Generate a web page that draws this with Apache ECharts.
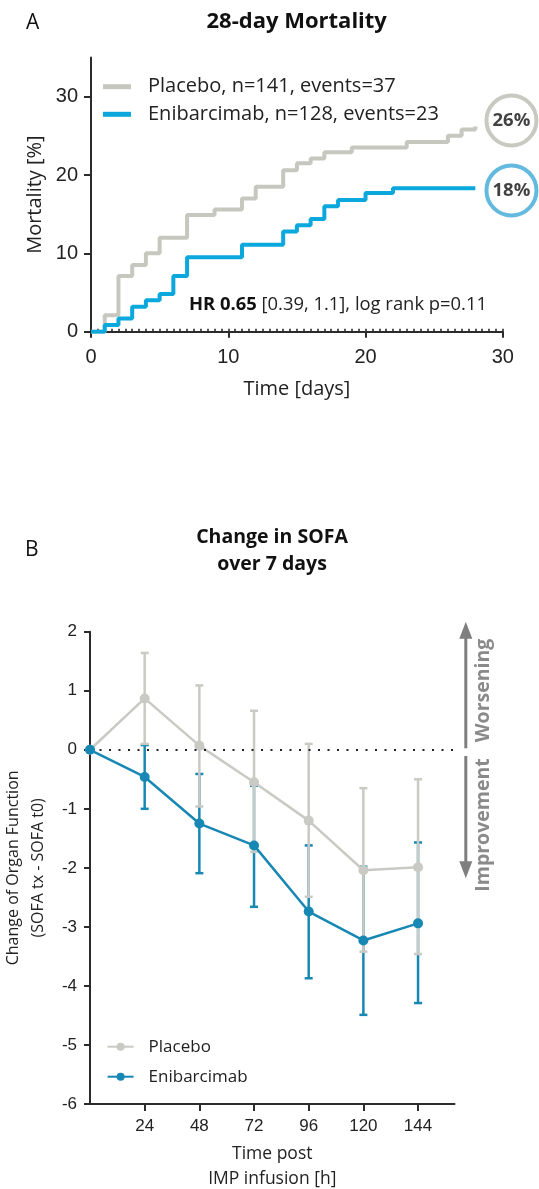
<!DOCTYPE html>
<html>
<head>
<meta charset="utf-8">
<script src="https://cdn.jsdelivr.net/npm/echarts@6/dist/echarts.min.js"></script>
<style>
html,body{margin:0;padding:0;background:#fff;}
#chart{width:539px;height:1189px;}
</style>
</head>
<body>
<div id="chart"></div>
<script>
// ---------- Panel A: Kaplan-Meier 28-day mortality ----------
const namePlaceboA = 'Placebo, n=141, events=37';
const nameEnibA = 'Enibarcimab, n=128, events=23';
const daysPlacebo = [0, 1, 2, 3, 4, 5, 7, 9, 11, 12, 14, 15, 16, 17, 19, 23, 26, 27, 28];
const mortPlacebo = [0, 2.1, 7.1, 8.5, 10.0, 12.0, 14.9, 15.6, 17.0, 18.5, 20.6, 21.5, 22.1, 22.9, 23.5, 24.2, 25.0, 25.8, 26.2];
const daysEnib = [0, 1, 2, 3, 4, 5, 6, 7, 11, 14, 15, 16, 17, 18, 20, 22, 28];
const mortEnib = [0, 0.85, 1.7, 3.2, 4.0, 4.8, 7.1, 9.5, 11.1, 12.8, 13.6, 14.4, 16.0, 16.8, 17.7, 18.3, 18.3];
const xTicksA = [0, 10, 20, 30];
const yTicksA = [0, 10, 20, 30];
const endLabelText = ['26%', '18%'];
const endLabelX = [30.63, 30.63];
const endLabelY = [26.96, 18.03];

// ---------- Panel B: Change in SOFA ----------
const hoursB = [0, 24, 48, 72, 96, 120, 144];
const sofaPlacebo = [0, 0.87, 0.07, -0.55, -1.2, -2.04, -1.99];
const sofaEnib = [0, -0.46, -1.25, -1.62, -2.74, -3.23, -2.94];
const errHours = [24, 48, 72, 96, 120, 144];
const placeboUpper = [1.64, 1.09, 0.66, 0.1, -0.65, -0.5];
const placeboLower = [0.1, -0.96, -1.73, -2.49, -3.42, -3.46];
const enibUpper = [0.08, -0.41, -0.61, -1.62, -1.98, -1.57];
const enibLower = [-1.0, -2.09, -2.66, -3.87, -4.49, -4.29];
const xTicksB = [24, 48, 72, 96, 120, 144];

const cGreyA = '#c6c7bf';
const cBlueA = '#0aa8dc';
const cGreyB = '#c9cac3';
const cBlueB = '#1787b4';
const cArrow = '#7f7f7f';
const FONT = 'Open Sans';
const TICKFONT = 'Liberation Sans';

const zip = (a, b) => a.map((v, i) => [v, b[i]]);
const zip3 = (a, b, c) => a.map((v, i) => [v, b[i], c[i]]);

function errorBar(color) {
  return function (params, api) {
    const x = api.value(0), lo = api.value(1), hi = api.value(2);
    const pLo = api.coord([x, lo]);
    const pHi = api.coord([x, hi]);
    const hw = 4;
    const style = { stroke: color, lineWidth: 2.5, fill: null };
    return {
      type: 'group',
      children: [
        { type: 'line', shape: { x1: pLo[0], y1: pLo[1], x2: pHi[0], y2: pHi[1] }, style: style },
        { type: 'line', shape: { x1: pLo[0] - hw, y1: pLo[1], x2: pLo[0] + hw, y2: pLo[1] }, style: style },
        { type: 'line', shape: { x1: pHi[0] - hw, y1: pHi[1], x2: pHi[0] + hw, y2: pHi[1] }, style: style }
      ]
    };
  };
}

const axisLineStyle = { color: '#2b2b2b', width: 2 };

const chart = echarts.init(document.getElementById('chart'), null, { renderer: 'canvas' });

const option = {
  animation: false,
  backgroundColor: '#ffffff',
  title: [
    { text: 'A', left: 26, top: 13, padding: 0, textStyle: { fontFamily: FONT, fontSize: 21, fontWeight: 'normal', color: '#111' } },
    { text: '28-day Mortality', left: 296.7, top: 11, padding: 0, textAlign: 'center', textStyle: { fontFamily: FONT, fontSize: 22, fontWeight: 'bold', color: '#111' } },
    { text: 'B', left: 25, top: 540, padding: 0, textStyle: { fontFamily: FONT, fontSize: 21, fontWeight: 'normal', color: '#111' } },
    { text: 'Change in SOFA\nover 7 days', left: 272, top: 524, padding: 0, textAlign: 'center', textStyle: { fontFamily: FONT, fontSize: 19.5, fontWeight: 'bold', color: '#111', lineHeight: 27 } }
  ],
  legend: [
    {
      data: [namePlaceboA, nameEnibA],
      orient: 'vertical', left: 103, top: 75.7, padding: 0, itemWidth: 28, itemHeight: 5, itemGap: 5.6,
      icon: 'rect',
      textStyle: { fontFamily: FONT, fontSize: 20, color: '#222', lineHeight: 22, padding: [0, 0, 0, 12] }
    },
    {
      data: ['Placebo', 'Enibarcimab'],
      orient: 'vertical', left: 106.6, top: 1035.7, padding: 0, itemWidth: 26, itemHeight: 10, itemGap: 8,
      textStyle: { fontFamily: FONT, fontSize: 17, color: '#222', lineHeight: 22, padding: [0, 0, 0, 10] }
    }
  ],
  grid: [
    { left: 91, top: 57.5, width: 411.8, height: 274.2, containLabel: false, outerBoundsMode: 'none' },
    { left: 90, top: 631.7, width: 364.5, height: 472.3, containLabel: false, outerBoundsMode: 'none' }
  ],
  xAxis: [
    {
      gridIndex: 0, type: 'value', min: 0, max: 30, interval: 10,
      name: 'Time [days]', nameLocation: 'middle', nameGap: 48,
      nameTextStyle: { fontFamily: FONT, fontSize: 20, color: '#222' },
      axisLine: { show: true, onZero: false, lineStyle: axisLineStyle },
      axisTick: { show: true, length: 6, lineStyle: { color: '#2b2b2b', width: 2 }, customValues: xTicksA },
      axisLabel: { customValues: xTicksA, fontFamily: TICKFONT, fontSize: 20, color: '#222', margin: 16 },
      splitLine: { show: false }
    },
    {
      gridIndex: 0, type: 'value', min: 0, max: 30, interval: 0.5, position: 'bottom',
      axisLine: { show: false, onZero: false },
      axisTick: { show: true, inside: true, length: 3, lineStyle: { color: '#2b2b2b', width: 1.6 } },
      axisLabel: { show: false },
      splitLine: { show: false }
    },
    {
      gridIndex: 1, type: 'value', min: 0, max: 160, interval: 24,
      name: 'Time post\nIMP infusion [h]', nameLocation: 'middle', nameGap: 38,
      nameTextStyle: { fontFamily: FONT, fontSize: 17.5, color: '#222', lineHeight: 25 },
      axisLine: { show: true, onZero: false, lineStyle: axisLineStyle },
      axisTick: { show: true, length: 7, lineStyle: { color: '#2b2b2b', width: 2 }, customValues: xTicksB },
      axisLabel: { customValues: xTicksB, fontFamily: TICKFONT, fontSize: 17, color: '#222', margin: 14 },
      splitLine: { show: false }
    }
  ],
  yAxis: [
    {
      gridIndex: 0, type: 'value', min: 0, max: 35, interval: 10,
      name: 'Mortality [%]', nameLocation: 'middle', nameGap: 46,
      nameTextStyle: { fontFamily: FONT, fontSize: 20, color: '#222' },
      axisLine: { show: true, onZero: false, lineStyle: axisLineStyle },
      axisTick: { show: true, length: 7, lineStyle: { color: '#2b2b2b', width: 2 }, customValues: yTicksA },
      axisLabel: { customValues: yTicksA, fontFamily: TICKFONT, fontSize: 20, color: '#222', margin: 13 },
      splitLine: { show: false }
    },
    {
      gridIndex: 1, type: 'value', min: -6, max: 2, interval: 1,
      name: 'Change of Organ Function\n(SOFA tx - SOFA t0)', nameLocation: 'middle', nameGap: 32,
      nameTextStyle: { fontFamily: FONT, fontSize: 16, color: '#222', lineHeight: 25 },
      axisLine: { show: true, onZero: false, lineStyle: axisLineStyle },
      axisTick: { show: true, length: 6, lineStyle: { color: '#2b2b2b', width: 2 } },
      axisLabel: { fontFamily: TICKFONT, fontSize: 17, color: '#222', margin: 13 },
      splitLine: { show: false }
    }
  ],
  series: [
    {
      name: namePlaceboA, type: 'line', xAxisIndex: 0, yAxisIndex: 0, step: 'end',
      data: zip(daysPlacebo, mortPlacebo), showSymbol: false, symbol: 'none',
      lineStyle: { color: cGreyA, width: 4 }, itemStyle: { color: cGreyA }, z: 3
    },
    {
      name: nameEnibA, type: 'line', xAxisIndex: 0, yAxisIndex: 0, step: 'end',
      data: zip(daysEnib, mortEnib), showSymbol: false, symbol: 'none',
      lineStyle: { color: cBlueA, width: 4 }, itemStyle: { color: cBlueA }, z: 4
    },
    {
      type: 'scatter', xAxisIndex: 0, yAxisIndex: 0, clip: false, symbol: 'circle', symbolSize: 50,
      data: endLabelText.map((t, i) => ({
        value: [endLabelX[i], endLabelY[i]], name: t,
        itemStyle: { color: '#ffffff', borderColor: i === 0 ? '#babbb2' : '#3da9d6', borderWidth: 4 }
      })),
      label: { show: true, position: 'inside', formatter: '{b}', fontFamily: FONT, fontSize: 18.5, fontWeight: 'bold', color: '#111' },
      z: 5
    },
    {
      type: 'custom', xAxisIndex: 2, yAxisIndex: 1, renderItem: errorBar(cBlueB),
      data: zip3(errHours, enibLower, enibUpper), encode: { x: 0, y: [1, 2] }, z: 2, silent: true
    },
    {
      type: 'custom', xAxisIndex: 2, yAxisIndex: 1, renderItem: errorBar(cGreyB),
      data: zip3(errHours, placeboLower, placeboUpper), encode: { x: 0, y: [1, 2] }, z: 3, silent: true
    },
    {
      name: 'Placebo', type: 'line', xAxisIndex: 2, yAxisIndex: 1,
      data: zip(hoursB, sofaPlacebo), symbol: 'circle', symbolSize: 10, showSymbol: true,
      lineStyle: { color: cGreyB, width: 2.5 }, itemStyle: { color: cGreyB }, z: 4,
      markLine: {
        silent: true, symbol: 'none', label: { show: false },
        lineStyle: { color: '#222', width: 2, type: [2, 7.5] },
        data: [{ yAxis: 0 }]
      }
    },
    {
      name: 'Enibarcimab', type: 'line', xAxisIndex: 2, yAxisIndex: 1,
      data: zip(hoursB, sofaEnib), symbol: 'circle', symbolSize: 10, showSymbol: true,
      lineStyle: { color: cBlueB, width: 2.5 }, itemStyle: { color: cBlueB }, z: 5
    }
  ],
  graphic: [
    {
      type: 'text', left: 189, top: 296,
      style: {
        text: '{b|HR 0.65} [0.39, 1.1], log rank p=0.11',
        rich: { b: { fontFamily: FONT, fontSize: 18.4, fontWeight: 'bold', fill: '#111' } },
        fontFamily: FONT, fontSize: 18.4, fill: '#222'
      }
    },
    // Worsening / Improvement arrows
    { type: 'line', shape: { x1: 465.8, y1: 636, x2: 465.8, y2: 748.3 }, style: { stroke: cArrow, lineWidth: 3 } },
    { type: 'polygon', shape: { points: [[465.8, 621.7], [459.3, 638.7], [472.3, 638.7]] }, style: { fill: cArrow } },
    { type: 'line', shape: { x1: 465.8, y1: 756, x2: 465.8, y2: 864 }, style: { stroke: cArrow, lineWidth: 3 } },
    { type: 'polygon', shape: { points: [[465.8, 878.3], [459.3, 861.3], [472.3, 861.3]] }, style: { fill: cArrow } },
    {
      type: 'text', x: 483.3, y: 690.5, rotation: Math.PI / 2,
      style: { text: 'Worsening', fontFamily: FONT, fontSize: 19.5, fontWeight: 'bold', fill: '#8a8a8a', align: 'center', verticalAlign: 'middle' }
    },
    {
      type: 'text', x: 483.3, y: 825, rotation: Math.PI / 2,
      style: { text: 'Improvement', fontFamily: FONT, fontSize: 19.5, fontWeight: 'bold', fill: '#8a8a8a', align: 'center', verticalAlign: 'middle' }
    }
  ]
};

chart.setOption(option);
</script>
</body>
</html>
